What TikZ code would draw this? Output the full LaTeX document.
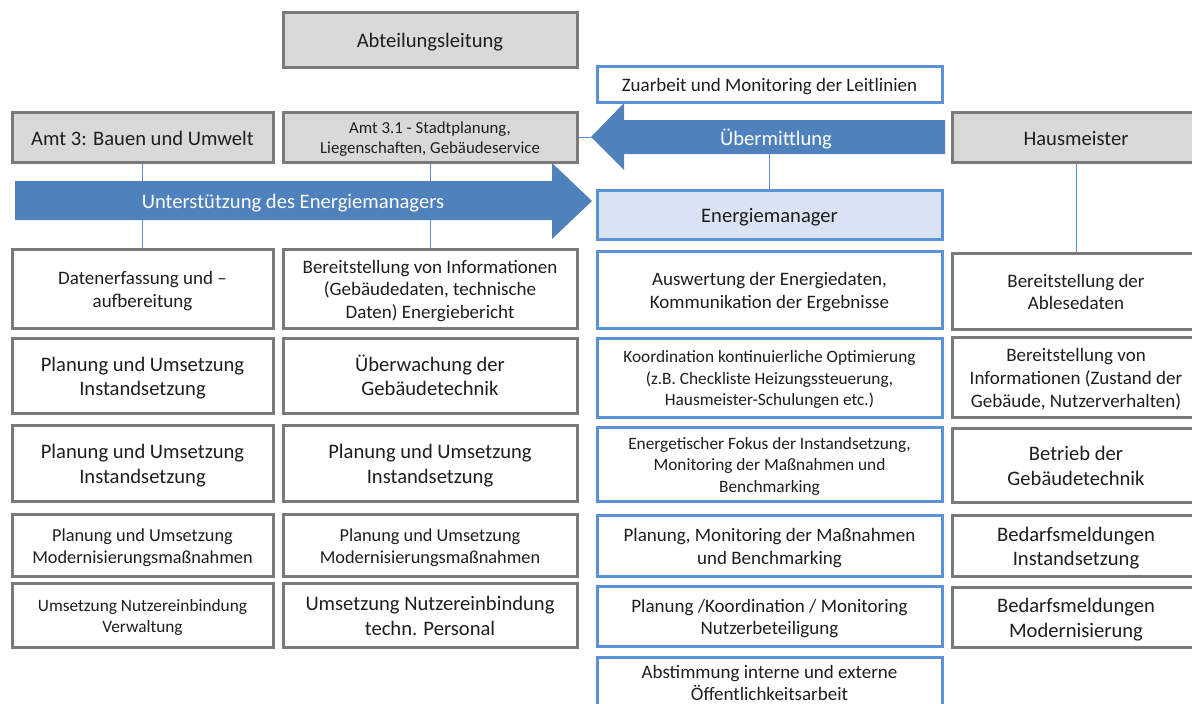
\documentclass[tikz,border=0pt]{standalone}
\usepackage{fontspec}
\setmainfont{Carlito}
\definecolor{boxgray}{HTML}{D9D9D9}
\definecolor{edgegray}{HTML}{7A7A7A}
\definecolor{edgeblue}{HTML}{5B92D6}
\definecolor{arrowblue}{HTML}{4F81BD}
\definecolor{mgrfill}{HTML}{DAE3F3}
\definecolor{txt}{HTML}{1E1E1E}
\newcommand\szL{\fontsize{20.6pt}{24.5pt}\selectfont}
\newcommand\szM{\fontsize{19pt}{22.8pt}\selectfont}
\newcommand\szN{\fontsize{18.3pt}{22pt}\selectfont}
\newcommand\szS{\fontsize{17.3pt}{21.5pt}\selectfont}
\newcommand\szT{\fontsize{16.8pt}{20.5pt}\selectfont}
% struts giving each text block the font's full ascent and descent
\newcommand\upstrut{\rule[-0.2em]{0pt}{1.25em}}
\newcommand\dnstrut{\rule[-0.269em]{0pt}{0.5em}}
\newcommand\tx[1]{\upstrut#1\dnstrut}
\tikzset{
  box/.style={rectangle, line width=3pt, align=center, inner sep=1pt, text=txt},
  graybox/.style={box, draw=edgegray, fill=boxgray},
  whitebox/.style={box, draw=edgegray, fill=white},
  bluebox/.style={box, draw=edgeblue, fill=white},
  mgrbox/.style={box, draw=edgeblue, fill=mgrfill},
  conn/.style={draw=edgeblue, line width=1pt},
  bigarrow/.style={fill=arrowblue, draw=none},
  arrowtext/.style={text=white, font=\szL, inner sep=0pt},
}
\begin{document}
\begin{tikzpicture}[x=1pt, y=-1pt]
\useasboundingbox (0,0) rectangle (1192,704);
\clip (0,0) rectangle (1192,704);
\fill[white] (0,0) rectangle (1192,704);

% head row
\node[graybox, minimum width=294pt, minimum height=55pt, font=\szL] (abt) at (430,39.5) {\tx{Abteilungsleitung}};
\node[bluebox, minimum width=345pt, minimum height=36pt, font=\szM] (zuarbeit) at (769.5,84) {\tx{Zuarbeit und Monitoring der Leitlinien}};
\node[graybox, minimum width=261pt, minimum height=50pt, font=\szL] (amt3) at (142.5,137) {\tx{Amt 3: Bauen und Umwelt}};
\node[graybox, minimum width=294pt, minimum height=50pt, font=\szT] (amt31) at (430,137) {\tx{Amt 3.1 - Stadtplanung,\\Liegenschaften, Gebäudeservice}};
\node[graybox, minimum width=248pt, minimum height=50pt, font=\szL] (haus) at (1076,137) {\tx{Hausmeister}};
\node[mgrbox, minimum width=345pt, minimum height=49pt, font=\szL] (mgr) at (769.5,214.5) {\tx{Energiemanager}};

% column 1
\node[whitebox, minimum width=261pt, minimum height=79pt, font=\szM] (a1) at (142.5,288.5) {\tx{Datenerfassung und –\\aufbereitung}};
\node[whitebox, minimum width=261pt, minimum height=75pt, font=\szL] (a2) at (142.5,375.5) {\tx{Planung und Umsetzung\\Instandsetzung}};
\node[whitebox, minimum width=261pt, minimum height=76pt, font=\szL] (a3) at (142.5,463) {\tx{Planung und Umsetzung\\Instandsetzung}};
\node[whitebox, minimum width=261pt, minimum height=62pt, font=\szN] (a4) at (142.5,545) {\tx{Planung und Umsetzung\\Modernisierungsmaßnahmen}};
\node[whitebox, minimum width=261pt, minimum height=64pt, font=\szS] (a5) at (142.5,615) {\tx{Umsetzung Nutzereinbindung\\Verwaltung}};

% column 2
\node[whitebox, minimum width=294pt, minimum height=79pt, font=\szM] (b1) at (430,288.5) {\tx{Bereitstellung von Informationen\\(Gebäudedaten, technische\\Daten) Energiebericht}};
\node[whitebox, minimum width=294pt, minimum height=75pt, font=\szL] (b2) at (430,375.5) {\tx{Überwachung der\\Gebäudetechnik}};
\node[whitebox, minimum width=294pt, minimum height=76pt, font=\szL] (b3) at (430,463) {\tx{Planung und Umsetzung\\Instandsetzung}};
\node[whitebox, minimum width=294pt, minimum height=62pt, font=\szN] (b4) at (430,545) {\tx{Planung und Umsetzung\\Modernisierungsmaßnahmen}};
\node[whitebox, minimum width=294pt, minimum height=64pt, font=\szL] (b5) at (430,615) {\tx{Umsetzung Nutzereinbindung\\techn. Personal}};

% column 3
\node[bluebox, minimum width=345pt, minimum height=77pt, font=\szM] (c1) at (769.5,289.5) {\tx{Auswertung der Energiedaten,\\Kommunikation der Ergebnisse}};
\node[bluebox, minimum width=345pt, minimum height=79pt, font=\szS] (c2) at (769.5,377.5) {\tx{Koordination kontinuierliche Optimierung\\(z.B. Checkliste Heizungssteuerung,\\Hausmeister-Schulungen etc.)}};
\node[bluebox, minimum width=345pt, minimum height=74pt, font=\szS] (c3) at (769.5,464) {\tx{Energetischer Fokus der Instandsetzung,\\Monitoring der Maßnahmen und\\Benchmarking}};
\node[bluebox, minimum width=345pt, minimum height=61pt, font=\szM] (c4) at (769.5,545.5) {\tx{Planung, Monitoring der Maßnahmen\\und Benchmarking}};
\node[bluebox, minimum width=345pt, minimum height=60pt, font=\szM] (c5) at (769.5,616) {\tx{Planung /Koordination / Monitoring\\Nutzerbeteiligung}};
\node[bluebox, minimum width=345pt, minimum height=50pt, font=\szM] (c6) at (769.5,682) {\tx{Abstimmung interne und externe\\Öffentlichkeitsarbeit}};

% column 4
\node[whitebox, minimum width=248pt, minimum height=76pt, font=\szM] (d1) at (1076,291) {\tx{Bereitstellung der\\Ablesedaten}};
\node[whitebox, minimum width=248pt, minimum height=80pt, font=\szM] (d2) at (1076,377) {\tx{Bereitstellung von\\Informationen (Zustand der\\Gebäude, Nutzerverhalten)}};
\node[whitebox, minimum width=248pt, minimum height=74pt, font=\szL] (d3) at (1076,465) {\tx{Betrieb der\\Gebäudetechnik}};
\node[whitebox, minimum width=248pt, minimum height=61pt, font=\szL] (d4) at (1076,545.5) {\tx{Bedarfsmeldungen\\Instandsetzung}};
\node[whitebox, minimum width=248pt, minimum height=60pt, font=\szL] (d5) at (1076,617) {\tx{Bedarfsmeldungen\\Modernisierung}};

% connectors
\coordinate (uebtip) at (591,137);
\coordinate (uebbot) at (769.5,154);
\draw[conn] (amt3.south) -- (a1.north);
\draw[conn] (amt31.south) -- (b1.north);
\draw[conn] (haus.south) -- (d1.north);
\draw[conn] (amt31.east) -- (uebtip);
\draw[conn] (uebbot) -- (mgr.north);

% block arrows
\fill[bigarrow] (945,120) -- (624,120) -- (624,103) -- (uebtip) -- (624,170) -- (624,154) -- (945,154) -- cycle;
\node[arrowtext] (uebtxt) at (776,137) {\tx{Übermittlung}};
\fill[bigarrow] (15,181) -- (552,181) -- (552,163) -- (592,201) -- (552,239) -- (552,220) -- (15,220) -- cycle;
\node[arrowtext] (unttxt) at (293,200) {\tx{Unterstützung des Energiemanagers}};
\end{tikzpicture}
\end{document}
